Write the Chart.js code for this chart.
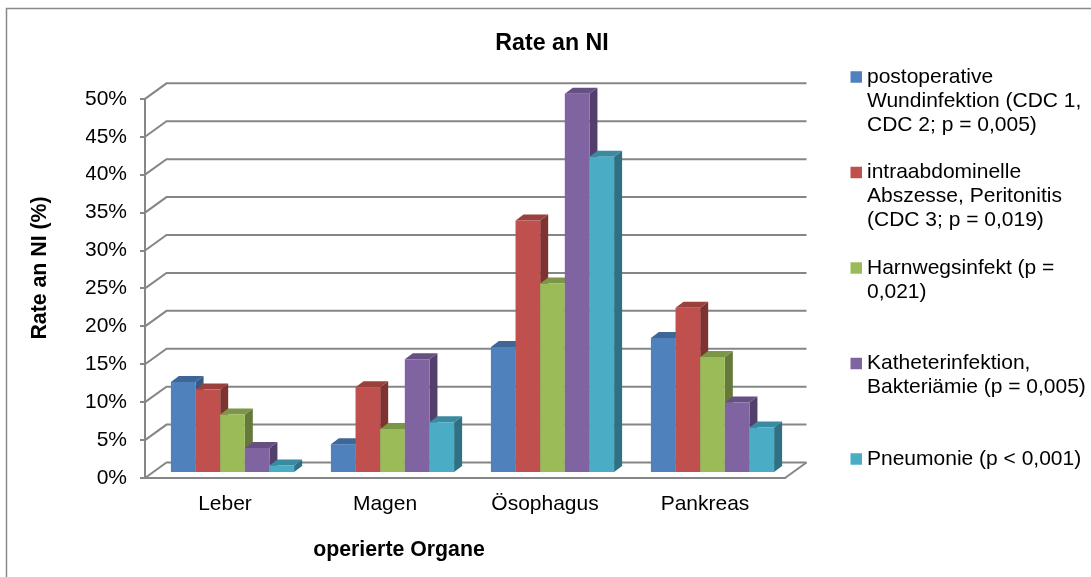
<!DOCTYPE html>
<html>
<head>
<meta charset="utf-8">
<title>Rate an NI</title>
<script src="https://cdn.jsdelivr.net/npm/chart.js@4"></script>
<style>
  html, body { margin: 0; padding: 0; background: #fff; }
  canvas { display: block; }
</style>
</head>
<body>
<canvas id="chart" width="1091" height="577"></canvas>
<script>
const organs = ["Leber", "Magen", "Ösophagus", "Pankreas"];
const wound = [12, 3.8, 16.6, 17.8];
const abscess = [11, 11.3, 33.3, 21.8];
const urinary = [7.7, 5.8, 25, 15.3];
const catheter = [3.3, 15, 50, 9.3];
const pneumonia = [1, 6.7, 41.7, 6];
const tickLabels = ["0%", "5%", "10%", "15%", "20%", "25%", "30%", "35%", "40%", "45%", "50%"];
// 3 lines per entry, the gap between entries is one more line (labels.padding)
const legendLines = [
  ["postoperative", "Wundinfektion (CDC 1,", "CDC 2; p = 0,005)"],
  ["intraabdominelle", "Abszesse, Peritonitis", "(CDC 3; p = 0,019)"],
  ["Harnwegsinfekt (p =", "0,021)", ""],
  ["Katheterinfektion,", "Bakteriämie (p = 0,005)", ""],
  ["Pneumonie (p < 0,001)"]
];
const fronts = ["#4F81BD", "#C0504D", "#9BBB59", "#8064A2", "#4BACC6"];
const tops = ["#3E6797", "#9A403D", "#7C9647", "#664F82", "#3A8AA0"];
const sides = ["#375A85", "#7E3331", "#657A3A", "#533F6B", "#2F7084"];

const FONT = "'Liberation Sans', Arial, sans-serif";
const GRID = "#868686";
const LINE = 23.875;
const WALL_X = 21.5, WALL_Y = -15.5;  // back wall offset
const BAR_X = 7.5, BAR_Y = -5;        // bars stand a bit behind the front edge
const DEPTH_X = 8, DEPTH_Y = -6;      // depth of one bar

function poly(ctx, color, pts) {
  ctx.fillStyle = color;
  ctx.beginPath();
  pts.forEach(function (p, i) {
    if (i === 0) ctx.moveTo(p[0], p[1]);
    else ctx.lineTo(p[0], p[1]);
  });
  ctx.closePath();
  ctx.fill();
}

const fake3d = {
  id: "fake3d",
  beforeDraw: function (chart) {
    // outer frame, runs off the right and bottom of the picture
    const ctx = chart.ctx;
    ctx.save();
    ctx.strokeStyle = "#8A8A8A";
    ctx.lineWidth = 1.5;
    ctx.strokeRect(6.5, 8.5, chart.width + 20, chart.height + 20);
    ctx.restore();
  },
  afterLayout: function (chart) {
    // legend starts higher than the plot, next to the title
    const legend = chart.legend;
    legend.left = 856 - LINE;
    legend.right = chart.width;  // the layout caps the width, text would get clipped
    const h = legend.bottom - legend.top;
    legend.top = 66.5 - LINE;
    legend.bottom = legend.top + h;
  },
  beforeDatasetsDraw: function (chart) {
    const ctx = chart.ctx;
    const area = chart.chartArea;
    const y = chart.scales.y;
    ctx.save();
    ctx.strokeStyle = GRID;
    ctx.lineWidth = 2;
    y.ticks.forEach(function (t) {
      const py = y.getPixelForValue(t.value);
      ctx.beginPath();
      ctx.moveTo(area.left, py);
      ctx.lineTo(area.left + WALL_X, py + WALL_Y);
      ctx.lineTo(area.right + WALL_X, py + WALL_Y);
      ctx.stroke();
    });
    ctx.beginPath();
    ctx.moveTo(area.right, area.bottom);
    ctx.lineTo(area.right + WALL_X, area.bottom + WALL_Y);
    ctx.stroke();
    ctx.restore();

    // left to right by hand, the front of a bar has to cover the side of the one before
    ctx.save();
    ctx.translate(BAR_X, BAR_Y);
    chart.data.datasets.forEach(function (ds, i) {
      const meta = chart.getDatasetMeta(i);
      meta.data.forEach(function (bar) {
        const l = bar.x - bar.width / 2, r = bar.x + bar.width / 2;
        poly(ctx, sides[i], [[r, bar.y], [r + DEPTH_X, bar.y + DEPTH_Y], [r + DEPTH_X, bar.base + DEPTH_Y], [r, bar.base]]);
        poly(ctx, tops[i], [[l, bar.y], [l + DEPTH_X, bar.y + DEPTH_Y], [r + DEPTH_X, bar.y + DEPTH_Y], [r, bar.y]]);
      });
      meta.controller.draw();
    });
    ctx.restore();
  },
  beforeDatasetDraw: function () {
    return false;
  },
  afterDraw: function (chart) {
    // axis titles sit off centre in the original, so no scale title here
    const ctx = chart.ctx;
    ctx.save();
    ctx.fillStyle = "#000";
    ctx.font = "bold 21.3px " + FONT;
    ctx.textAlign = "center";
    ctx.textBaseline = "middle";
    ctx.fillText("operierte Organe", 399, 550);
    ctx.translate(40, 268);
    ctx.rotate(-Math.PI / 2);
    ctx.fillText("Rate an NI (%)", 0, 0);
    ctx.restore();
  }
};

function series(label, data, i) {
  return { label: label, data: data, backgroundColor: fronts[i] };
}

new Chart(document.getElementById("chart"), {
  type: "bar",
  data: {
    labels: organs,
    datasets: [
      series("postoperative Wundinfektion", wound, 0),
      series("intraabdominelle Abszesse, Peritonitis", abscess, 1),
      series("Harnwegsinfekt", urinary, 2),
      series("Katheterinfektion, Bakteriämie", catheter, 3),
      series("Pneumonie", pneumonia, 4)
    ]
  },
  options: {
    responsive: false,
    animation: false,
    layout: { padding: { left: 86, right: 73 } },
    datasets: { bar: { barPercentage: 1, categoryPercentage: 0.77 } },
    scales: {
      x: {
        grid: { drawOnChartArea: false, drawTicks: false },
        border: { color: GRID, width: 2 },
        ticks: { color: "#000", padding: 14, font: { family: FONT, size: 21 }, maxRotation: 0 },
        afterFit: function (scale) { scale.height = 99; }
      },
      y: {
        min: 0,
        max: 50,
        grid: { drawOnChartArea: false, color: GRID, lineWidth: 2, tickLength: 5 },
        border: { color: GRID, width: 2 },
        ticks: {
          stepSize: 5,
          color: "#000",
          padding: 13,
          font: { family: FONT, size: 21 },
          callback: function (v, i) { return tickLabels[i]; }
        },
        afterFit: function (scale) { scale.width = 59; }
      }
    },
    plugins: {
      tooltip: { enabled: false },
      title: {
        display: true,
        text: "Rate an NI",
        color: "#000",
        font: { family: FONT, size: 23.2, weight: "bold" },
        padding: { top: 30, bottom: 41 }
      },
      legend: {
        position: "right",
        align: "start",
        labels: {
          color: "#000",
          padding: LINE,
          // tiny box with a fat stroke, keeps the text close to the swatch
          boxWidth: 0.5,
          boxHeight: 0.5,
          font: { family: FONT, size: 21, lineHeight: LINE + "px" },
          generateLabels: function () {
            return legendLines.map(function (lines, i) {
              return { text: lines, fillStyle: fronts[i], strokeStyle: fronts[i], lineWidth: 11, datasetIndex: i, fontColor: "#000" };
            });
          }
        }
      }
    }
  },
  plugins: [fake3d]
});
</script>
</body>
</html>
